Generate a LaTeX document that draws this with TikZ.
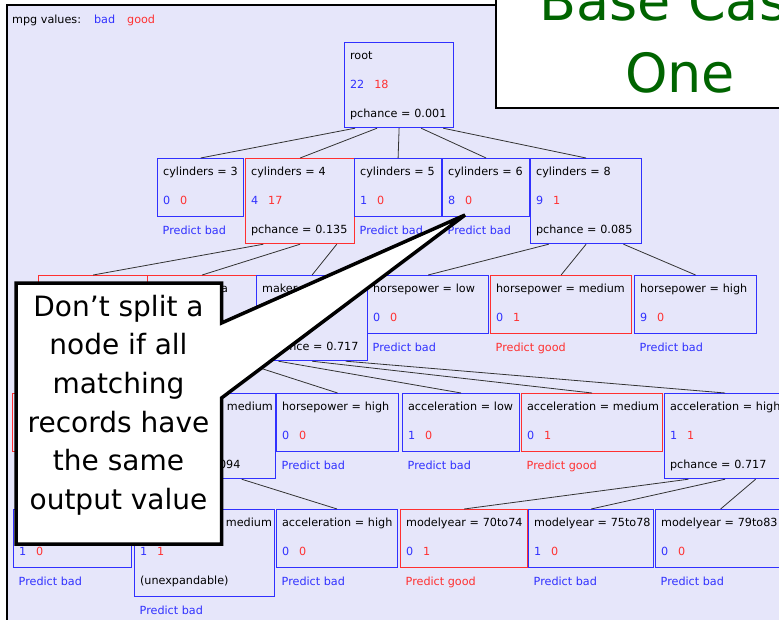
\documentclass[tikz,border=0pt]{standalone}
\usepackage{fontspec}
\setmainfont{DejaVu Sans}
\usetikzlibrary{calc}
\definecolor{bgl}{RGB}{230,230,250}
\definecolor{cb}{RGB}{48,48,255}
\definecolor{cr}{RGB}{255,48,48}
\definecolor{tgreen}{RGB}{0,100,0}
\newcommand{\nums}[2]{\textcolor{cb}{#1}\hspace{10pt}\textcolor{cr}{#2}}
\begin{document}
\begin{tikzpicture}[x=1pt,y=-1pt,
  tb/.style={draw=#1,line width=1.2pt,anchor=north west,align=left,inner xsep=5.5pt,inner ysep=0pt,text height=17pt,font=\fontsize{11.2}{29}\selectfont},
  two/.style={text depth=41pt},
  three/.style={text depth=68pt},
  pred/.style={anchor=base west,inner sep=0pt,text=#1,font=\fontsize{11.2}{12}\selectfont},
  ed/.style={line width=0.8pt,black!80}]
\useasboundingbox (0,0) rectangle (779,619);
\clip (0,0) rectangle (779,619);
\fill[white] (0,0) rectangle (779,619);
\filldraw[fill=bgl,draw=black,line width=1.5pt] (7,5) rectangle (790,630);
\node[anchor=base west,inner sep=0pt,font=\fontsize{11.2}{12}\selectfont] (legend) at (12,23) {mpg values:\hspace{13pt}\textcolor{cb}{bad}\hspace{12pt}\textcolor{cr}{good}};
% level 0 and 1
\node[tb=cb,three,text width=98pt] (root) at (344,42) {root\\\nums{22}{18}\\\mbox{pchance = 0.001}};
\node[tb=cb,two,text width=75pt] (cyl3) at (157,158) {\mbox{cylinders = 3}\\\nums{0}{0}};
\node[tb=cr,three,text width=98pt] (cyl4) at (245,158) {cylinders = 4\\\nums{4}{17}\\\mbox{pchance = 0.135}};
\node[tb=cb,two,text width=76pt] (cyl5) at (354,158) {\mbox{cylinders = 5}\\\nums{1}{0}};
\node[tb=cb,two,text width=76pt] (cyl6) at (442,158) {\mbox{cylinders = 6}\\\nums{8}{0}};
\node[tb=cb,three,text width=100pt] (cyl8) at (530,158) {cylinders = 8\\\nums{9}{1}\\\mbox{pchance = 0.085}};
% level 2
\node[tb=cr,three,text width=98pt] (makA) at (38,275) {\mbox{}};
\node[tb=cr,three,text width=98pt] (makB) at (147,275) {maker = asia};
\node[tb=cb,three,text width=100pt] (makC) at (256,275) {maker = europe\\\mbox{}\\\mbox{pchance = 0.717}};
\node[tb=cb,two,text width=110pt] (hpL1) at (367,275) {horsepower = low\\\nums{0}{0}};
\node[tb=cr,two,text width=130pt] (hpM1) at (490,275) {\mbox{horsepower = medium}\\\nums{0}{1}};
\node[tb=cb,two,text width=111pt] (hpH1) at (634,275) {\mbox{horsepower = high}\\\nums{9}{0}};
% level 3
\node[tb=cr,two,text width=115pt] (hpL2) at (12,393) {\mbox{}};
\node[tb=cb,three,text width=126pt] (hpM2) at (138,393) {\mbox{horsepower = medium}\\\mbox{}\\\mbox{pchance = 0.094}};
\node[tb=cb,two,text width=111pt] (hpH2) at (276,393) {\mbox{horsepower = high}\\\nums{0}{0}};
\node[tb=cb,two,text width=106pt] (acL) at (402,393) {\mbox{acceleration = low}\\\nums{1}{0}};
\node[tb=cr,two,text width=130pt] (acM) at (521,393) {\mbox{acceleration = medium}\\\nums{0}{1}};
\node[tb=cb,three,text width=110pt] (acH) at (664,393) {\mbox{acceleration = high}\\\nums{1}{1}\\\mbox{pchance = 0.717}};
% level 4
\node[tb=cb,two,text width=107pt] (acL3) at (13,509) {\mbox{}\\\nums{1}{0}};
\node[tb=cb,three,text width=129pt,text depth=70pt] (acM3) at (134,509) {\mbox{acceleration = medium}\\\nums{1}{1}\\(unexpandable)};
\node[tb=cb,two,text width=110pt] (acH3) at (276,509) {\mbox{acceleration = high}\\\nums{0}{0}};
\node[tb=cr,two,text width=116pt] (my1) at (400,509) {\mbox{modelyear = 70to74}\\\nums{0}{1}};
\node[tb=cb,two,text width=114pt] (my2) at (528,509) {\mbox{modelyear = 75to78}\\\nums{1}{0}};
\node[tb=cb,two,text width=119pt] (my3) at (655,509) {\mbox{modelyear = 79to83}\\\nums{0}{0}};
\foreach \n/\c/\t in {cyl3/cb/bad,cyl5/cb/bad,cyl6/cb/bad,hpL1/cb/bad,hpM1/cr/good,hpH1/cb/bad,
  hpH2/cb/bad,acL/cb/bad,acM/cr/good,acL3/cb/bad,acM3/cb/bad,acH3/cb/bad,my1/cr/good,my2/cb/bad,my3/cb/bad}
  \node[pred=\c] (p\n) at ([xshift=5.5pt,yshift=-17pt]\n.south west) {Predict \t};
\foreach \p/\c/\f in {root/cyl3/.1,root/cyl4/.3,root/cyl5/.5,root/cyl6/.7,root/cyl8/.9,
  cyl4/makA/.167,cyl4/makB/.5,cyl4/makC/.833,cyl8/hpL1/.167,cyl8/hpM1/.5,cyl8/hpH1/.833,
  makB/hpL2/.167,makB/hpM2/.5,makB/hpH2/.833,makC/acL/.2,makC/acM/.5,makC/acH/.8,
  hpM2/acL3/.167,hpM2/acM3/.5,hpM2/acH3/.75,acH/my1/.2,acH/my2/.5,acH/my3/.75}
  \draw[ed] ($(\p.south west)!\f!(\p.south east)$)--(\c.north);
% callout
\draw[line width=3.5pt,fill=white,miter limit=3] (16,283)--(221.5,283)--(221.5,323)--(465,215)--(221.5,398)--(221.5,544)--(16,544)--cycle;
\node[font=\fontsize{28}{38.6}\selectfont,align=center] (note) at (118.5,405) {Don’t split a\\node if all\\matching\\records have\\the same\\output value};
% title
\filldraw[fill=white,draw=black,line width=2pt] (496,-10) rectangle (800,108);
\node[anchor=base,text=tgreen,font=\fontsize{54}{60}\selectfont] (ttl1) at (680,20) {Base Case};
\node[anchor=base,text=tgreen,font=\fontsize{54}{60}\selectfont] (ttl2) at (680,92) {One};
\end{tikzpicture}
\end{document}
